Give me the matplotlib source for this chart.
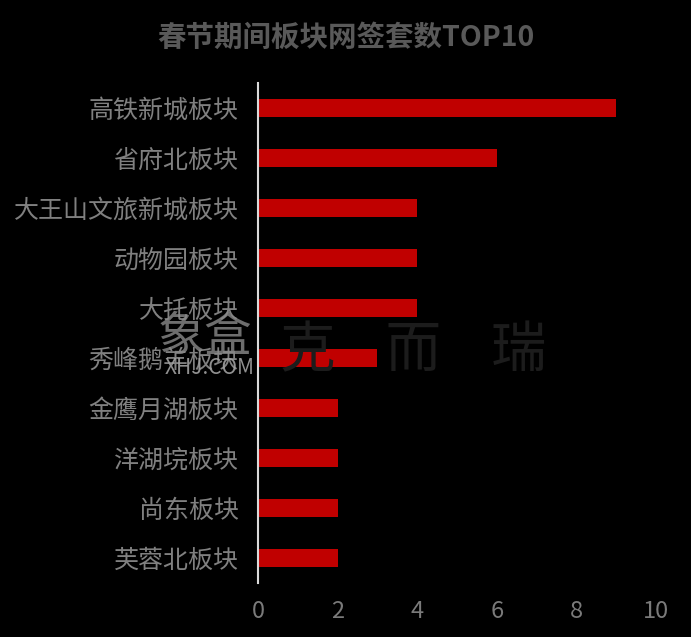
import matplotlib
matplotlib.use("Agg")
import matplotlib.pyplot as plt

plt.rcParams['font.family'] = ['Noto Sans CJK SC', 'DejaVu Sans']

title = "春节期间板块网签套数TOP10"
categories = ["高铁新城板块", "省府北板块", "大王山文旅新城板块", "动物园板块", "大托板块",
              "秀峰鹅羊板块", "金鹰月湖板块", "洋湖垸板块", "尚东板块", "芙蓉北板块"]
values = [9, 6, 4, 4, 4, 3, 2, 2, 2, 2]
xticks = [0, 2, 4, 6, 8, 10]

fig = plt.figure(figsize=(6.91, 6.37), dpi=100, facecolor='black')
ax = fig.add_axes([0.3734, 0.0848, 0.5760, 0.785])
ax.set_facecolor('black')

ypos = list(range(len(categories)))
ax.barh(ypos, values, height=0.35, color='#C00000', zorder=2)
ax.set_ylim(len(categories) - 0.5, -0.5)
ax.set_xlim(0, 10)
ax.set_yticks(ypos)
ax.set_yticklabels(categories, fontsize=18, color='#808080', fontweight='light')
ax.set_xticks(xticks)
ax.set_xticklabels([str(t) for t in xticks], fontsize=17, color='#7a7a7a', fontweight='light')
ax.tick_params(axis='y', length=0, pad=14)
ax.tick_params(axis='x', length=0, pad=12)
for s in ['top', 'right', 'bottom']:
    ax.spines[s].set_visible(False)
ax.spines['left'].set_color('#d9d9d9')
ax.spines['left'].set_linewidth(1.5)
ax.spines['left'].set_zorder(3)

fig.text(0.5, 0.94, title, ha='center', va='center', fontsize=20.5, fontweight='bold', color='#595959')

# watermark
fig.text(0.297, 0.47, "象盒", ha='center', va='center', fontsize=34, color='#8a8a8a', alpha=0.8, zorder=5)
fig.text(0.303, 0.422, "XHJ.COM", ha='center', va='center', fontsize=15, color='#a0a0a0', alpha=0.9, zorder=5)
fig.text(0.598, 0.448, "克    而    瑞", ha='center', va='center', fontsize=40, color='#1c1c1c', fontweight='light', zorder=1)

fig.savefig("out.png", dpi=100, facecolor='black')
